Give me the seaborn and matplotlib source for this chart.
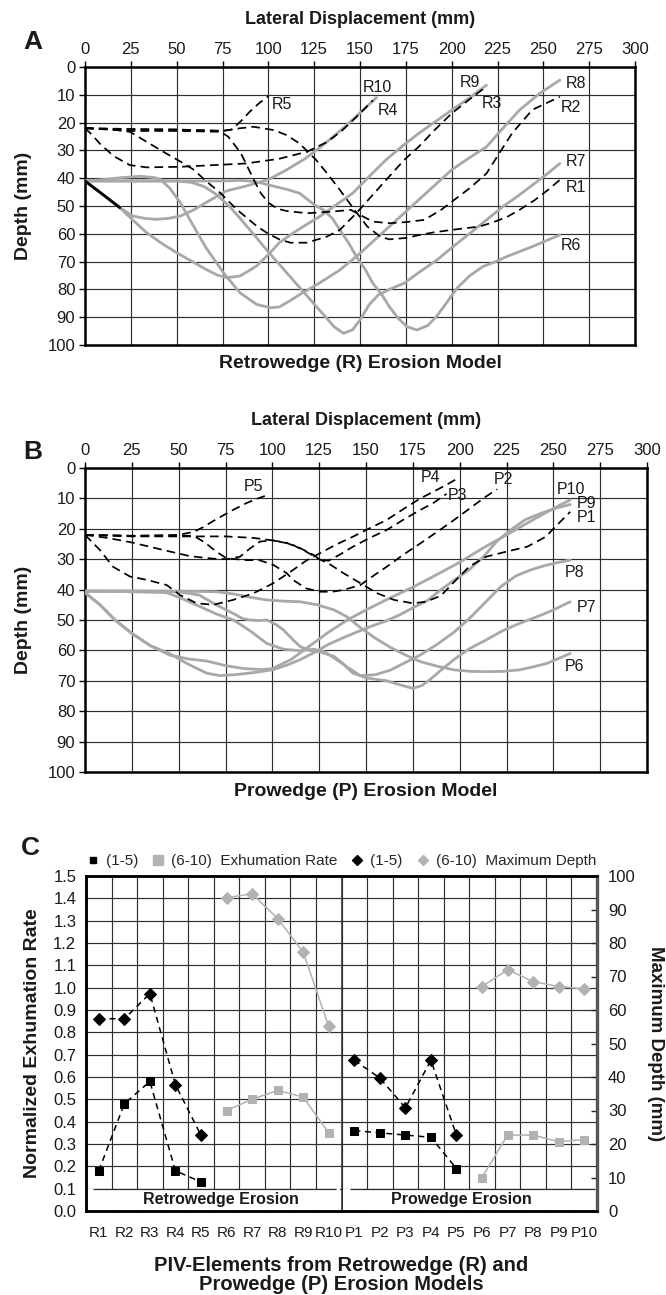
import matplotlib
matplotlib.use("Agg")
import matplotlib.pyplot as plt
from matplotlib.lines import Line2D
from matplotlib.patches import Rectangle
import numpy as np
import seaborn as sns

# ---------------------------------------------------------------
# Panel A - retrowedge erosion model: PIV element paths
# lateral displacement (mm) vs depth (mm)
# ---------------------------------------------------------------
R1_x = [0, 25, 50, 75, 85, 92, 103, 110, 117, 126, 132, 139, 147, 154, 161, 166, 175, 182, 190, 200, 215, 222, 230, 237, 245, 252, 259]
R1_depth = [22, 22.5, 22.5, 23, 22, 21.5, 22.7, 24.5, 27.5, 33.4, 38.2, 44.2, 51.4, 57.4, 61, 62, 61.5, 60.5, 59.5, 58.6, 57.4, 56, 54, 51.4, 48, 44.5, 40.6]
R2_x = [0, 25, 50, 74, 78, 81, 85, 88, 92, 96, 100, 105, 110, 121, 135, 145, 150, 157, 166, 175, 185, 194, 200, 210, 219, 226, 233, 244, 259]
R2_depth = [22, 23, 23, 23.3, 25, 27.5, 31, 35, 40.5, 45.5, 48.8, 51, 51.8, 52.6, 52, 51.4, 53.2, 55.6, 56.2, 55.8, 55, 51.5, 48.5, 43.5, 38.3, 31, 23.8, 15.4, 10.7]
R3_x = [0, 15, 24.5, 33.6, 42.7, 52, 59, 66, 73.6, 82.7, 93.6, 100, 106, 112, 121, 132, 139, 148, 161, 174, 182, 191, 200, 210, 219]
R3_depth = [22, 22.5, 23.3, 26.9, 30.5, 34, 36.8, 41, 45.2, 51.2, 57.2, 60, 62, 63.2, 63.2, 61, 58.6, 52.6, 43, 33.5, 28.7, 22.5, 16.7, 11.5, 7]
R4_x = [0, 4, 8, 15.5, 24.5, 33.6, 52, 70, 88, 106, 121, 132, 140, 148, 157]
R4_depth = [22, 24.5, 27.5, 32, 35.3, 36.1, 35.9, 35.3, 34.7, 33, 30.5, 27, 23, 18, 12]
R5_x = [0, 25, 50, 75, 80, 85, 90, 95, 100]
R5_depth = [22, 22.3, 22.5, 23, 22.5, 19.5, 16, 13, 10.5]

R6_x = [0, 25, 50, 75, 85, 93, 100, 110, 117, 125, 130, 135, 139, 144, 148, 153, 157, 162, 166, 171, 175.5, 181, 187, 192, 197, 203, 210, 217, 224, 230, 244, 259]
R6_depth = [41, 41, 41, 41, 40.8, 41.2, 42.4, 44, 45.4, 49.5, 51.4, 54.5, 58.6, 63.5, 68.2, 73, 77.8, 82, 86.2, 90.5, 93.4, 94.6, 93, 89.5, 85, 79.5, 75, 71.8, 70, 68.2, 64.6, 60.4]
R7_x = [0, 25, 50, 58, 65, 72, 80, 86, 93, 100, 106, 112, 118, 124, 130, 136, 141, 146, 150, 155, 160, 166, 174, 183, 192, 201, 210, 219, 228, 237, 246, 252, 259]
R7_depth = [41, 41, 41, 41.5, 43, 46, 51, 55.5, 61, 66.5, 71, 75.5, 80, 84.5, 89, 93.5, 95.8, 94.5, 91, 85.5, 82, 80, 77.8, 73.5, 69.4, 64.5, 59.8, 55, 50.2, 46, 41.5, 38.5, 34.7]
R8_x = [0, 10, 20, 30, 38, 41, 46, 52, 59, 66, 75.5, 84.5, 93.6, 101, 106, 112, 118, 124.6, 132, 139, 148, 156, 164, 173, 182, 191, 200, 210, 219, 228, 237, 248, 259]
R8_depth = [41, 40.5, 39.8, 39.3, 39.8, 40.4, 43.4, 48.8, 57, 65, 74, 81.2, 85.4, 86.6, 86.3, 84, 81.5, 79, 76, 73, 68.2, 63.4, 58.6, 53.2, 47.8, 42.4, 37, 32.5, 28.7, 22, 15.5, 9.5, 4.7]
R9_x = [0, 10, 19, 26, 33.6, 42, 50, 58, 66, 72, 77, 84.5, 93.6, 101, 106, 114, 121, 128, 137, 146, 155, 164, 173, 182, 191, 200, 210, 219]
R9_depth = [41, 46, 50.6, 55, 59.6, 63.5, 66.8, 69.8, 72.8, 74.8, 75.8, 75.2, 71.6, 66.8, 63.2, 59.5, 56.6, 53.8, 49.6, 45.4, 39.4, 33.5, 28.5, 23.9, 19.7, 15.5, 11, 6.5]
R10_x = [0, 10, 19, 26, 33, 39, 46, 52, 59, 66, 77, 88, 100, 110, 120, 130, 140, 150, 159]
R10_depth = [41, 46, 50.6, 53.6, 54.5, 54.8, 54.4, 53.6, 51.5, 48.8, 44.6, 42.8, 40.5, 37, 33, 28, 22.5, 16.5, 11]

# ---------------------------------------------------------------
# Panel B - prowedge erosion model: PIV element paths
# ---------------------------------------------------------------
P1_x = [0, 25, 50, 75, 90, 100, 110, 118, 125, 130, 138, 147, 156, 165, 175, 182, 190, 197, 205, 214, 225, 236, 246, 250, 259]
P1_depth = [22, 22.5, 22.5, 22.5, 23, 23.8, 25, 27.5, 30, 31.4, 34.6, 37.9, 41.2, 43.4, 44.5, 44, 42, 37.5, 32.5, 29.2, 27.5, 25.9, 22.6, 20, 14.4]
P2_x = [0, 25, 50, 58, 64, 70, 75.6, 86, 93, 100.6, 107.7, 111, 118, 125.5, 132, 138, 147, 155, 161, 170, 179, 188, 197, 206, 214, 220]
P2_depth = [22, 22.3, 22.3, 22.3, 24.5, 27.5, 29.7, 30.3, 30.3, 31.9, 34.6, 36.8, 39.6, 40.7, 40.7, 40.1, 38.5, 35, 32.5, 28.5, 24.8, 21, 17.1, 13, 9.4, 7]
P3_x = [0, 12, 25, 42, 56, 68, 75.6, 82.7, 88, 93.4, 100, 107, 115, 122, 125.5, 130, 136, 143, 152, 161, 170, 179, 186, 193]
P3_depth = [22, 23, 24.5, 27, 29, 29.8, 30, 29.2, 26.5, 24.2, 23.8, 24.5, 26.4, 28.6, 30.2, 30.5, 28.5, 25.9, 23, 20.4, 17, 13.8, 11.5, 8.5]
P4_x = [0, 4, 8, 15, 24, 33, 43.6, 50.7, 59.6, 68.5, 79, 90, 100.5, 110, 118, 125.5, 134, 143, 152, 161, 170, 179, 186, 193, 199]
P4_depth = [22, 24.5, 27, 32.5, 35.7, 36.8, 38.5, 41.8, 44.5, 45, 43.4, 41.2, 37.9, 34, 30.5, 28, 25.2, 22.6, 19.8, 17.1, 13.5, 10, 7.8, 5.5, 3.4]
P5_x = [0, 25, 50, 58, 63, 68, 74, 79, 86, 91, 96]
P5_depth = [22, 22.3, 22, 21, 19.5, 17.6, 15.5, 13.8, 11.6, 10.3, 9.2]

P6_x = [0, 25, 50, 70, 80, 88, 97, 106, 115, 124, 133, 140, 147, 155, 163, 171, 179, 188, 197, 206, 214, 223, 232, 240, 246.5, 253, 259]
P6_depth = [40.5, 40.5, 40.5, 40.7, 41.5, 42.5, 43.4, 43.8, 44, 45, 46.7, 49, 52.5, 56, 59, 61.5, 63.7, 65.2, 66.4, 66.9, 67, 66.9, 66.4, 65.3, 64.3, 62.6, 61]
P7_x = [0, 25, 50, 61, 70, 79, 84, 88, 93, 97, 102, 106, 111, 115, 120, 125.4, 133, 138, 143, 150, 155, 161, 168, 175, 180, 184, 190, 197, 205, 214, 223, 232, 241, 250, 259]
P7_depth = [40.5, 40.5, 40.7, 41.8, 45, 47.8, 49.5, 50, 50.2, 50, 51.5, 53.3, 56.5, 58.8, 60, 60.5, 62, 64.5, 67.5, 69, 69.5, 70, 71.3, 72.5, 71.5, 69.7, 66.5, 63, 59.5, 56.6, 53.5, 51.1, 49, 46.7, 44]
P8_x = [0, 25, 43.6, 52, 61.4, 70, 79.2, 88, 97, 105.9, 114.8, 121.9, 128, 133, 140, 147, 155, 163, 171, 179, 188, 197, 206, 214, 222, 230, 238, 246, 253, 259]
P8_depth = [40.5, 40.7, 41, 43, 45.6, 48, 50, 53.5, 57.7, 59.6, 60.1, 59.6, 60.5, 62.5, 65.5, 68.3, 68, 66.5, 64, 61.5, 58, 54, 49, 44, 39, 35.5, 33.5, 32, 31, 30.3]
P9_x = [0, 8, 16, 25, 35, 45, 55, 65, 72, 80, 90, 100, 108, 115, 122, 130, 138, 145, 153, 160, 168, 175, 183, 190, 198, 205, 213, 220, 228, 235, 243, 251, 259]
P9_depth = [41, 45, 50, 54.4, 58.5, 61, 64.5, 67.5, 68.3, 68, 67.3, 66.4, 64.8, 63, 60.8, 58, 55.8, 54, 52, 50.5, 48.3, 46, 43.5, 40, 36.5, 33.5, 29, 24, 20, 17, 15, 13.3, 12]
P10_x = [0, 8, 16, 25, 35, 45, 55, 65, 75, 85, 95, 100, 110, 120, 130, 140, 150, 162, 175, 188, 200, 212, 225, 235, 245, 252, 259]
P10_depth = [41, 45, 50, 54.4, 58.5, 61.5, 62.8, 63.5, 65, 66, 66.3, 66, 63, 58.5, 54, 50, 46.7, 43, 39.2, 35, 31, 26.5, 22, 18.5, 15, 12.7, 10.5]

# ---------------------------------------------------------------
# Panel C - exhumation rate and maximum depth per PIV element
# ---------------------------------------------------------------
piv_labels = ["R1", "R2", "R3", "R4", "R5", "R6", "R7", "R8", "R9", "R10",
              "P1", "P2", "P3", "P4", "P5", "P6", "P7", "P8", "P9", "P10"]
rate_R1_5 = [0.18, 0.48, 0.58, 0.18, 0.13]
rate_R6_10 = [0.45, 0.50, 0.54, 0.51, 0.35]
rate_P1_5 = [0.36, 0.35, 0.34, 0.33, 0.19]
rate_P6_10 = [0.15, 0.34, 0.34, 0.31, 0.32]
depth_R1_5 = [57.4, 57.4, 64.9, 37.7, 22.6]
depth_R6_10 = [93.5, 94.7, 87.3, 77.3, 55.1]
depth_P1_5 = [45.0, 39.7, 30.8, 45.0, 22.6]
depth_P6_10 = [67.0, 72.0, 68.5, 67.0, 66.3]

# ---------------------------------------------------------------
sns.set_theme(style="ticks")
plt.rcParams["font.family"] = ["Liberation Sans", "DejaVu Sans"]

GRAY_LINE = "#a8a8a8"
GRAY_MARK = "#b2b2b2"
GRID = "#2e2e2e"
TXT = "#1a1a1a"
DASH = (0, (5, 3))
SHORT_DASH = (0, (4, 3))

fig = plt.figure(figsize=(6.66, 12.95), dpi=100)
W, H = 666.0, 1295.0


def px_axes(left, top, right, bottom):
    return fig.add_axes([left / W, 1 - bottom / H, (right - left) / W, (bottom - top) / H])


axA = px_axes(85, 67, 635, 345)
axB = px_axes(85, 468, 647, 772)
axC = px_axes(86, 876, 597, 1211)

retro_dashed = {"R1": (R1_x, R1_depth), "R2": (R2_x, R2_depth), "R3": (R3_x, R3_depth),
                "R4": (R4_x, R4_depth), "R5": (R5_x, R5_depth)}
retro_solid = {"R6": (R6_x, R6_depth), "R7": (R7_x, R7_depth), "R8": (R8_x, R8_depth),
               "R9": (R9_x, R9_depth), "R10": (R10_x, R10_depth)}
pro_dashed = {"P1": (P1_x, P1_depth), "P2": (P2_x, P2_depth), "P3": (P3_x, P3_depth),
              "P4": (P4_x, P4_depth), "P5": (P5_x, P5_depth)}
pro_solid = {"P6": (P6_x, P6_depth), "P7": (P7_x, P7_depth), "P8": (P8_x, P8_depth),
             "P9": (P9_x, P9_depth), "P10": (P10_x, P10_depth)}

# label placement relative to each path's end point (mm, mm of depth)
retro_label_offset = {"R1": (3, 2.7), "R2": (0.5, 3.8), "R3": (-2.5, 6.3), "R4": (2.5, 3.8),
                      "R5": (1.8, 2.9), "R6": (0.5, 3.9), "R7": (3, -0.7), "R8": (3, 1.2),
                      "R9": (-14.5, -1.0), "R10": (-7.5, -3.7)}
pro_label_offset = {"P1": (3.5, 1.8), "P2": (-2, -3.1), "P3": (0.8, 0.4), "P4": (-20, -0.4),
                    "P5": (-11.5, -3.2), "P6": (-2.7, 4.4), "P7": (3.5, 1.8), "P8": (-2.7, 4.1),
                    "P9": (3.5, -0.2), "P10": (-7, -3.3)}


def draw_path(ax, xs, ys, color, lw, style, zorder, **marker_kws):
    sns.lineplot(x=xs, y=ys, ax=ax, color=color, lw=lw, sort=False, estimator=None,
                 zorder=zorder, **marker_kws)
    ax.lines[-1].set_linestyle(style)


def profile_panel(ax, dashed, solid, offsets, model_title, letter, letter_y):
    for xs, ds in solid.values():
        draw_path(ax, xs, ds, GRAY_LINE, 2.0, "-", 3)
    for xs, ds in dashed.values():
        draw_path(ax, xs, ds, "black", 1.25, DASH, 4)
    paths = {**dashed, **solid}
    for name, (dx, dy) in offsets.items():
        xs, ds = paths[name]
        ax.text(xs[-1] + dx, ds[-1] + dy, name, fontsize=11.5, ha="left", va="center",
                color=TXT, zorder=6)
    ax.set_xlim(0, 300)
    ax.set_ylim(100, 0)
    ax.set_xticks(np.arange(0, 301, 25))
    ax.set_yticks(np.arange(0, 101, 10))
    ax.xaxis.tick_top()
    ax.xaxis.set_label_position("top")
    ax.set_axisbelow(True)
    ax.grid(True, color=GRID, lw=0.85)
    ax.tick_params(axis="both", labelsize=12, length=4, width=1, color="black",
                   labelcolor=TXT, pad=3)
    for s in ax.spines.values():
        s.set_visible(True)
        s.set_color("black")
        s.set_linewidth(1.8)
    ax.set_xlabel("Lateral Displacement (mm)", fontsize=13, fontweight="bold",
                  labelpad=13, color=TXT)
    ax.set_ylabel("Depth (mm)", fontsize=14, fontweight="bold", labelpad=11, color=TXT)
    ax.text(0.5, -0.035, model_title, transform=ax.transAxes, ha="center", va="top",
            fontsize=14, fontweight="bold", color=TXT)
    fig.text(33 / W, 1 - letter_y / H, letter, fontsize=19, fontweight="bold",
             ha="center", va="center", color=TXT)


profile_panel(axA, retro_dashed, retro_solid, retro_label_offset,
              "Retrowedge (R) Erosion Model", "A", 42)
# dark overlay on the first stretch of the shallow retrowedge paths
draw_path(axA, R9_x[:3], R9_depth[:3], "black", 2.0, "-", 5)
profile_panel(axB, pro_dashed, pro_solid, pro_label_offset,
              "Prowedge (P) Erosion Model", "B", 452)

# ---------------------------- Panel C ----------------------------
pos = np.arange(len(piv_labels))
axD = axC.twinx()

groups_rate = [(pos[0:5], rate_R1_5, "black", SHORT_DASH), (pos[5:10], rate_R6_10, GRAY_MARK, "-"),
               (pos[10:15], rate_P1_5, "black", SHORT_DASH), (pos[15:20], rate_P6_10, GRAY_MARK, "-")]
groups_depth = [(pos[0:5], depth_R1_5, "black", SHORT_DASH), (pos[5:10], depth_R6_10, GRAY_MARK, "-"),
                (pos[10:15], depth_P1_5, "black", SHORT_DASH), (pos[15:20], depth_P6_10, GRAY_MARK, "-")]

for xs, ys, col, style in groups_rate:
    draw_path(axC, xs, ys, col, 1.1, style, 5, marker="s", markersize=5.5,
              markeredgecolor=col, markerfacecolor=col)
for xs, ys, col, style in groups_depth:
    draw_path(axD, xs, ys, col, 1.1, style, 5, marker="D", markersize=6.5,
              markeredgecolor=col, markerfacecolor=col)

axC.set_xlim(-0.5, 19.5)
axC.set_ylim(0, 1.5)
axD.set_ylim(0, 100)
axC.set_xticks(pos)
axC.set_xticklabels(piv_labels)
axC.set_xticks(np.arange(-0.5, 20, 1), minor=True)
axC.set_yticks(np.round(np.arange(0, 1.51, 0.1), 1))
axC.set_yticklabels([f"{v:.1f}" for v in np.arange(0, 1.51, 0.1)])
axD.set_yticks(np.arange(0, 101, 10))
axC.set_axisbelow(True)
axC.grid(True, which="minor", axis="x", color=GRID, lw=0.85)
axC.grid(True, which="major", axis="y", color=GRID, lw=0.85)
axC.tick_params(axis="x", which="both", length=0, labelsize=11, pad=11, labelcolor=TXT)
axC.tick_params(axis="y", length=0, labelsize=12, pad=7, labelcolor=TXT)
axD.tick_params(axis="y", direction="in", length=4, width=1, labelsize=12, pad=8,
                labelcolor=TXT)
for ax in (axC, axD):
    for s in ax.spines.values():
        s.set_visible(True)
        s.set_color("black")
        s.set_linewidth(1.8)
axD.spines["right"].set_color("#555555")
axD.spines["right"].set_linewidth(2.4)

# bottom band naming the two model groups
for x0, x1 in [(-0.45, 9.45), (9.55, 19.45)]:
    axC.add_patch(Rectangle((x0, 0.004), x1 - x0, 0.094, facecolor="white",
                            edgecolor="none", zorder=1))
axC.hlines(0.1, -0.23, 9.28, color=GRID, lw=0.9, zorder=2)
axC.hlines(0.1, 9.83, 19.42, color=GRID, lw=0.9, zorder=2)
axC.axvline(9.5, color=GRID, lw=1.1, zorder=2)
axC.text(4.78, 0.05, "Retrowedge Erosion", ha="center", va="center", fontsize=11.5,
         fontweight="bold", color=TXT, zorder=3)
axC.text(14.18, 0.05, "Prowedge Erosion", ha="center", va="center", fontsize=11.5,
         fontweight="bold", color=TXT, zorder=3)

axC.set_xlabel("PIV-Elements from Retrowedge (R) and\nProwedge (P) Erosion Models",
               fontsize=14.5, fontweight="bold", labelpad=11, linespacing=1.0, color=TXT)
axC.set_ylabel("Normalized Exhumation Rate", fontsize=14, fontweight="bold",
               labelpad=9, color=TXT)
axD.set_ylabel("Maximum Depth (mm)", fontsize=13.5, fontweight="bold", rotation=270,
               labelpad=20, color=TXT)

handles = [Line2D([], [], ls="none", marker="s", ms=5, color="black"),
           Line2D([], [], ls="none", marker="s", ms=7, color=GRAY_MARK),
           Line2D([], [], ls="none", marker="D", ms=5.5, color="black"),
           Line2D([], [], ls="none", marker="D", ms=5.5, color=GRAY_MARK)]
axC.legend(handles, ["(1-5)", "(6-10)  Exhumation Rate", "(1-5)", "(6-10)  Maximum Depth"],
           ncol=4, loc="lower center", bbox_to_anchor=(0.5, 1.0), frameon=False,
           fontsize=11, handlelength=0.8, handletextpad=0.45, columnspacing=0.9,
           borderaxespad=0.1)
fig.text(30 / W, 1 - 848 / H, "C", fontsize=19, fontweight="bold", ha="center",
         va="center", color=TXT)

fig.savefig("out.png", dpi=100)
